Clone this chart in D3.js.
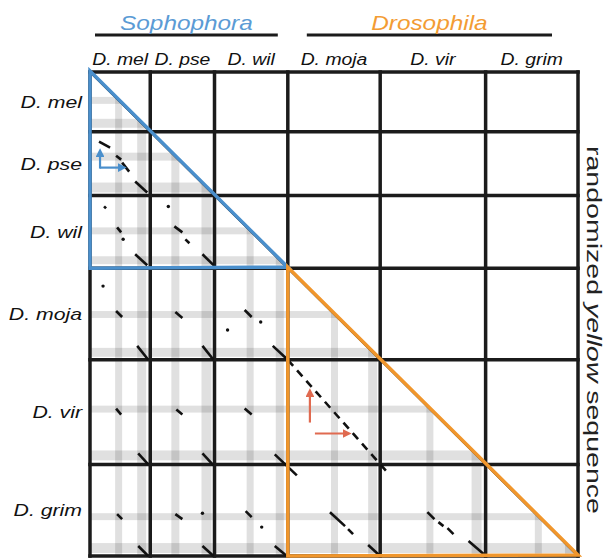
<!DOCTYPE html>
<html>
<head>
<meta charset="utf-8">
<script src="https://cdnjs.cloudflare.com/ajax/libs/d3/7.8.5/d3.min.js"></script>
<style>
    body { margin: 0; background: #fff; }
    svg text { font-family: "Liberation Sans", Arial, sans-serif; }
</style>
</head>
<body>
<div id="chart"></div>
<script>
// species compared along both axes, with relative sequence lengths
var species = ["D. mel", "D. pse", "D. wil", "D. moja", "D. vir", "D. grim"];
var seqLength = [60, 64, 73, 92, 105, 92];

// conserved blocks (start, end) inside each sequence
var bandA = [[25, 32], [21, 29], [32, 39], [43, 50], [46, 53], [49, 56]];
var bandB = [[47, 56], [51, 61], [61, 69], [80, 89], [91, 101], [79, 89]];

// clades: name, first species index, last species index
var groupNames = ["Sophophora", "Drosophila"];
var groupFirst = [0, 3];
var groupLast = [2, 5];
var groupColours = ["#4a8fcc", "#f0962c"];
var titleColours = ["#5b9bd5", "#f39c34"];

// dot plot matches: row species, column species, x1, y1, x2, y2 (within the cell)
var segments = [
    [1, 0, 9, 10, 20, 16], [1, 0, 26, 24, 31, 28], [1, 0, 32, 31, 39, 40], [1, 0, 45, 50, 57, 61],
    [2, 0, 14, 11, 16, 13], [2, 0, 27, 32, 31, 37], [2, 0, 45, 59, 57, 70],
    [2, 1, 24, 31, 32, 37], [2, 1, 35, 44, 39, 48], [2, 1, 52, 59, 63, 70],
    [3, 0, 26, 43, 32, 49], [3, 0, 47, 78, 58, 92],
    [3, 1, 25, 44, 32, 50], [3, 1, 52, 78, 63, 92],
    [3, 2, 30, 42, 37, 49], [3, 2, 58, 78, 74, 93],
    [4, 0, 26, 49, 31, 55], [4, 0, 48, 94, 58, 105],
    [4, 1, 26, 50, 32, 55], [4, 1, 52, 94, 63, 106],
    [4, 2, 30, 49, 37, 55], [4, 2, 60, 95, 82, 116],
    [5, 0, 27, 50, 32, 55], [5, 0, 48, 82, 58, 92],
    [5, 1, 25, 50, 32, 55], [5, 1, 52, 82, 63, 92],
    [5, 2, 31, 47, 37, 53], [5, 2, 60, 82, 72, 92],
    [5, 3, 42, 48, 57, 62], [5, 3, 60, 65, 65, 70], [5, 3, 80, 81, 92, 92],
    [5, 4, 47, 48, 54, 55], [5, 4, 58, 58, 63, 62], [5, 4, 67, 64, 73, 70], [5, 4, 88, 77, 103, 90]
];
var dots = [
    [2, 0, 33, 44], [2, 1, 18, 11],
    [3, 0, 13, 18], [3, 2, 13, 62], [3, 2, 46, 54],
    [5, 1, 52, 49], [5, 2, 47, 63]
];
// long broken match along a whole cell: row, column
var brokenDiagonals = [[4, 3]];

// arrows: row, column, x1, y1, x2, y2
var blueArrows = [[1, 0, 10, 37, 10, 20], [1, 0, 10, 36, 33, 36]];
var redArrows = [[4, 3, 22, 63, 22, 32], [4, 3, 27, 74, 60, 74]];

var svg = d3.select("#chart").append("svg")
    .attr("width", 606)
    .attr("height", 559);

var defs = svg.append("defs");

var total = d3.sum(seqLength);
var starts = [0].concat(Array.from(d3.cumsum(seqLength)));

var x = d3.scaleLinear().domain([0, total]).range([90, 578]);
var y = d3.scaleLinear().domain([0, total]).range([72, 556]);

var cx = function(col, v) { return x(starts[col] + v); };
var cy = function(row, v) { return y(starts[row] + v); };

// the lower triangle holds the comparisons
defs.append("clipPath").attr("id", "lowerTri")
    .append("path")
    .attr("d", "M" + x(0) + "," + y(0) + "L" + x(total) + "," + y(total) + "L" + x(0) + "," + y(total) + "Z");

var bandLayer = svg.append("g").attr("clip-path", "url(#lowerTri)");

species.forEach(function(s, i) {
    [bandA[i], bandB[i]].forEach(function(b) {
        // horizontal band for the row
        bandLayer.append("rect")
            .attr("x", x(0))
            .attr("y", cy(i, b[0]))
            .attr("width", x(total) - x(0))
            .attr("height", cy(i, b[1]) - cy(i, b[0]))
            .attr("fill", "#000")
            .attr("fill-opacity", 0.12);
        // vertical band for the column
        bandLayer.append("rect")
            .attr("x", cx(i, b[0]))
            .attr("y", y(0))
            .attr("width", cx(i, b[1]) - cx(i, b[0]))
            .attr("height", y(total) - y(0))
            .attr("fill", "#000")
            .attr("fill-opacity", 0.12);
    });
});

// grid
var grid = svg.append("g").attr("stroke", "#1b1b1b").attr("stroke-width", 3.5).attr("stroke-linecap", "square");
starts.forEach(function(s) {
    grid.append("line")
        .attr("x1", x(s)).attr("x2", x(s))
        .attr("y1", y(0)).attr("y2", y(total));
    grid.append("line")
        .attr("x1", x(0)).attr("x2", x(total))
        .attr("y1", y(s)).attr("y2", y(s));
});

// self comparisons on the diagonal
var marks = svg.append("g").attr("stroke", "#111").attr("stroke-width", 2.6).attr("fill", "none");
species.forEach(function(s, i) {
    marks.append("line")
        .attr("x1", cx(i, 0)).attr("y1", cy(i, 0))
        .attr("x2", cx(i, seqLength[i])).attr("y2", cy(i, seqLength[i]))
        .attr("stroke-width", 2);
});

marks.selectAll("line.seg")
    .data(segments)
    .enter()
    .append("line")
    .attr("class", "seg")
    .attr("x1", function(d) { return cx(d[1], d[2]); })
    .attr("y1", function(d) { return cy(d[0], d[3]); })
    .attr("x2", function(d) { return cx(d[1], d[4]); })
    .attr("y2", function(d) { return cy(d[0], d[5]); });

brokenDiagonals.forEach(function(d) {
    marks.append("line")
        .attr("x1", cx(d[1], 0)).attr("y1", cy(d[0], 0))
        .attr("x2", cx(d[1], seqLength[d[1]] + 8)).attr("y2", cy(d[0], seqLength[d[0]] + 9))
        .attr("stroke-dasharray", "8,6");
});

svg.append("g").selectAll("circle")
    .data(dots)
    .enter()
    .append("circle")
    .attr("cx", function(d) { return cx(d[1], d[2]); })
    .attr("cy", function(d) { return cy(d[0], d[3]); })
    .attr("r", 1.7)
    .attr("fill", "#111");

// clade triangles
groupNames.forEach(function(g, k) {
    var a = starts[groupFirst[k]];
    var b = starts[groupLast[k] + 1];
    svg.append("path")
        .attr("d", "M" + x(a) + "," + (y(a) - 1) + "L" + x(b) + "," + (y(b) - 1) + "L" + x(a) + "," + y(b) + "Z")
        .attr("fill", "none")
        .attr("stroke", groupColours[k])
        .attr("stroke-width", 3.5)
        .attr("stroke-linejoin", "miter");
});

// arrows
var drawArrows = function(list, colour, id) {
    defs.append("marker")
        .attr("id", id)
        .attr("viewBox", "0 0 10 10")
        .attr("refX", 6).attr("refY", 5)
        .attr("markerWidth", 4).attr("markerHeight", 4)
        .attr("orient", "auto")
        .append("path")
        .attr("d", "M0,0L10,5L0,10Z")
        .attr("fill", colour);
    svg.append("g").selectAll("line")
        .data(list)
        .enter()
        .append("line")
        .attr("x1", function(d) { return cx(d[1], d[2]); })
        .attr("y1", function(d) { return cy(d[0], d[3]); })
        .attr("x2", function(d) { return cx(d[1], d[4]); })
        .attr("y2", function(d) { return cy(d[0], d[5]); })
        .attr("stroke", colour)
        .attr("stroke-width", 2.2)
        .attr("marker-end", "url(#" + id + ")");
};
drawArrows(blueArrows, "#4a8fcc", "arrowBlue");
drawArrows(redArrows, "#e06a50", "arrowRed");

// labels
species.forEach(function(s, i) {
    var mid = starts[i] + seqLength[i] / 2;
    svg.append("text")
        .attr("transform", "translate(" + x(mid) + ",65) scale(1.14,1)")
        .attr("text-anchor", "middle")
        .attr("font-size", 17)
        .attr("font-style", "italic")
        .attr("fill", "#111")
        .text(s);
    svg.append("text")
        .attr("transform", "translate(82," + (y(mid) + 6) + ") scale(1.25,1)")
        .attr("text-anchor", "end")
        .attr("font-size", 17)
        .attr("font-style", "italic")
        .attr("fill", "#111")
        .text(s);
});

groupNames.forEach(function(g, k) {
    var a = x(starts[groupFirst[k]]);
    var b = x(starts[groupLast[k] + 1]);
    var left = k == 0 ? a + 5 : a + 19;
    var right = k == 0 ? b - 10 : b - 26;
    svg.append("line")
        .attr("x1", left).attr("x2", right)
        .attr("y1", 35).attr("y2", 35)
        .attr("stroke", "#1b1b1b")
        .attr("stroke-width", 3.2);
    svg.append("text")
        .attr("transform", "translate(" + ((left + right) / 2) + ",30) scale(1.16,1)")
        .attr("text-anchor", "middle")
        .attr("font-size", 21)
        .attr("font-style", "italic")
        .attr("fill", titleColours[k])
        .text(g);
});

var side = svg.append("text")
    .attr("transform", "translate(587,330) rotate(90)")
    .attr("text-anchor", "middle")
    .attr("font-size", 19.5)
    .attr("fill", "#222")
    .attr("textLength", 368)
    .attr("lengthAdjust", "spacingAndGlyphs");
side.append("tspan").text("randomized ");
side.append("tspan").attr("font-style", "italic").text("yellow");
side.append("tspan").text(" sequence");
</script>
</body>
</html>
